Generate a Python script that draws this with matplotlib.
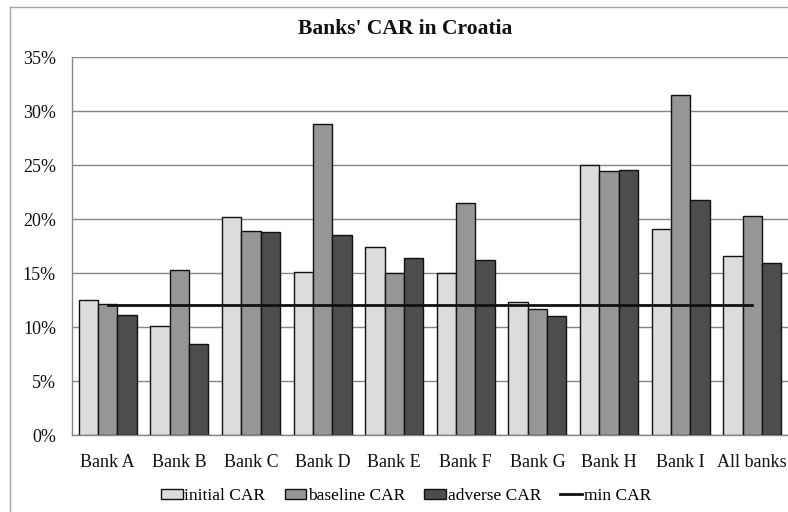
import matplotlib
matplotlib.use("Agg")
import matplotlib.pyplot as plt
from matplotlib.lines import Line2D
import numpy as np

banks = ["Bank A", "Bank B", "Bank C", "Bank D", "Bank E",
         "Bank F", "Bank G", "Bank H", "Bank I", "All banks"]
initial_car = [12.5, 10.1, 20.2, 15.1, 17.4, 15.0, 12.3, 25.0, 19.1, 16.6]
baseline_car = [12.1, 15.3, 18.9, 28.8, 15.0, 21.5, 11.7, 24.4, 31.5, 20.3]
adverse_car = [11.1, 8.4, 18.8, 18.5, 16.4, 16.2, 11.0, 24.5, 21.8, 15.9]
min_car = [12.0] * len(banks)
y_ticks = [0, 5, 10, 15, 20, 25, 30, 35]

plt.rcParams["font.family"] = ["Liberation Serif", "DejaVu Serif"]

W, H = 788, 512
fig = plt.figure(figsize=(W / 100, H / 100), dpi=100)
ax = fig.add_axes([72 / W, 1 - 435 / H, (788 - 72) / W, (435 - 57) / H])

x = np.arange(len(banks))
bw = 0.27
series = [
    (initial_car, "#dcdcdc", "initial CAR"),
    (baseline_car, "#969696", "baseline CAR"),
    (adverse_car, "#4d4d4d", "adverse CAR"),
]
handles = []
for i, (vals, col, lab) in enumerate(series):
    bars = ax.bar(x + (i - 1) * bw, vals, width=bw, color=col,
                  edgecolor="#111111", linewidth=1.0, label=lab, zorder=3)
    handles.append(bars)

line, = ax.plot(x, min_car, color="#111111", linewidth=2.0, zorder=4,
                label="min CAR")
handles.append(line)

ax.set_xlim(-0.5, len(banks) - 0.5)
ax.set_ylim(0, 35)
ax.set_yticks(y_ticks)
ax.set_yticklabels([f"{v}%" for v in y_ticks])
ax.set_xticks(x)
ax.set_xticklabels(banks)
ax.tick_params(axis="both", length=0, labelsize=13, colors="#111111")
ax.tick_params(axis="x", pad=14)
ax.tick_params(axis="y", pad=11.5)
ax.yaxis.grid(True, color="#868686", linewidth=1.0, zorder=0)
ax.set_axisbelow(True)
for side in ["top", "right"]:
    ax.spines[side].set_visible(False)
for side in ["left", "bottom"]:
    ax.spines[side].set_color("#868686")
    ax.spines[side].set_linewidth(1.0)

fig.text(405 / W, 1 - 29 / H, "Banks' CAR in Croatia", ha="center",
         va="center", fontsize=15.5, fontweight="bold", color="#111111")

leg = fig.legend(handles=handles,
                 labels=[s[2] for s in series] + ["min CAR"],
                 loc="center", bbox_to_anchor=(406 / W, 1 - 496 / H),
                 ncol=4, frameon=False, fontsize=12.5,
                 handlelength=1.25, handleheight=0.55, handletextpad=0.1,
                 columnspacing=1.1)

# outer chart frame (left and top edges)
fig.add_artist(Line2D([10 / W, 10 / W], [0, 1 - 7 / H],
                      transform=fig.transFigure, color="#a6a6a6", lw=1.0))
fig.add_artist(Line2D([10 / W, 1], [1 - 7 / H, 1 - 7 / H],
                      transform=fig.transFigure, color="#a6a6a6", lw=1.0))

fig.savefig("out.png", dpi=100)
